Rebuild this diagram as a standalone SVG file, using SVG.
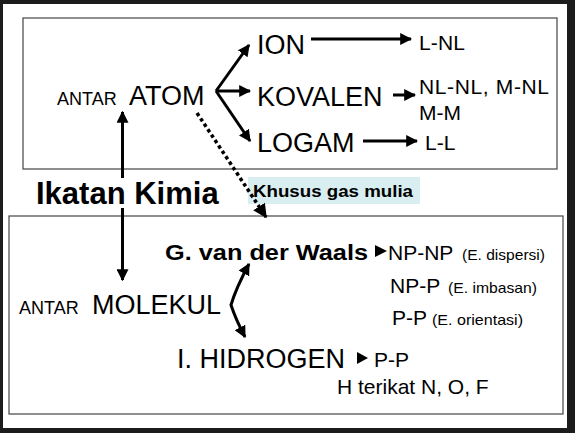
<svg xmlns="http://www.w3.org/2000/svg" width="575" height="433" viewBox="0 0 575 433">
<style>
text{font-family:"Liberation Sans",Arial,sans-serif;fill:#000}
.big{font-size:27px}
.sm{font-size:18px}
.mid{font-size:21px}
.tiny{font-size:15px}
.b{font-weight:bold}
.ln{stroke:#000;stroke-width:3;fill:none}
.box{fill:none;stroke:#444;stroke-width:1.2}
</style>
<defs>
<marker id="ah" viewBox="0 0 10 10" refX="9" refY="5" markerWidth="4" markerHeight="4" orient="auto-start-reverse" markerUnits="strokeWidth">
<path d="M0,0 L10,5 L0,10 z" fill="#000"/>
</marker>
</defs>
<rect x="0" y="0" width="575" height="433" fill="#1c1c1c"/>
<rect x="3" y="4" width="564" height="424" fill="#fff"/>
<rect class="box" x="23" y="18" width="534" height="151"/>
<rect class="box" x="9" y="216" width="554" height="198"/>

<g id="connectors">
<line class="ln" x1="122.5" y1="112" x2="122.5" y2="280" marker-start="url(#ah)" marker-end="url(#ah)"/>
<line class="ln" x1="216" y1="91" x2="249" y2="45" marker-end="url(#ah)"/>
<line class="ln" x1="216" y1="91" x2="250" y2="91" marker-end="url(#ah)"/>
<line class="ln" x1="216" y1="91" x2="250" y2="141" marker-end="url(#ah)"/>
<line class="ln" x1="311" y1="39" x2="411" y2="39" marker-end="url(#ah)"/>
<line class="ln" x1="393" y1="95" x2="415" y2="95" marker-end="url(#ah)"/>
<line class="ln" x1="363" y1="141" x2="417" y2="141" marker-end="url(#ah)"/>
<path class="ln" d="M249,264 Q236,288 231,305 Q236,320 245,337" marker-start="url(#ah)" marker-end="url(#ah)"/>
<path d="M375,245 L387,251 L375,257 z" fill="#000"/>
<path d="M357,352 L368,358 L357,364 z" fill="#000"/>
</g>

<rect x="34" y="178" width="186" height="30" fill="#fff"/>
<rect x="248" y="177" width="172" height="27" fill="#d9eef0"/>
<g id="dotted">
<line x1="197" y1="113" x2="266" y2="217" stroke="#000" stroke-width="3.5" stroke-dasharray="3.5,3" marker-end="url(#ah)"/>
</g>

<g id="ikatan"><text class="b" x="36" y="204" font-size="31">Ikatan Kimia</text></g>
<g id="khusus"><text class="b" x="253" y="197" font-size="17" textLength="160" lengthAdjust="spacingAndGlyphs">Khusus gas mulia</text></g>

<g id="atom">
<text class="sm" x="57" y="105">ANTAR</text>
<text class="big" x="129" y="105">ATOM</text>
</g>
<g id="ion"><text class="big" x="257" y="54">ION</text></g>
<g id="kovalen"><text class="big" x="257" y="106">KOVALEN</text></g>
<g id="logam"><text class="big" x="257" y="152">LOGAM</text></g>
<g id="lnl"><text class="mid" x="419" y="50" textLength="46">L-NL</text></g>
<g id="nlnl">
<text class="mid" x="419" y="94" textLength="130">NL-NL, M-NL</text>
<text class="mid" x="419" y="120">M-M</text>
</g>
<g id="ll"><text class="mid" x="425" y="150">L-L</text></g>

<g id="molekul">
<text class="sm" x="19" y="314">ANTAR</text>
<text class="big" x="92" y="314">MOLEKUL</text>
</g>
<g id="vdw"><text class="b" x="165" y="260" font-size="22" textLength="203" lengthAdjust="spacingAndGlyphs">G. van der Waals</text></g>
<g id="npnp">
<text class="mid" x="388" y="260">NP-NP</text>
<text class="tiny" x="462" y="260" textLength="83" lengthAdjust="spacingAndGlyphs">(E. dispersi)</text>
</g>
<g id="npp">
<text class="mid" x="390" y="293">NP-P</text>
<text class="tiny" x="448" y="293" textLength="89" lengthAdjust="spacingAndGlyphs">(E. imbasan)</text>
</g>
<g id="pp">
<text class="mid" x="392" y="325">P-P</text>
<text class="tiny" x="432" y="325" textLength="91" lengthAdjust="spacingAndGlyphs">(E. orientasi)</text>
</g>
<g id="hidrogen"><text class="big" x="177" y="368">I. HIDROGEN</text></g>
<g id="pp2"><text class="mid" x="374" y="367">P-P</text></g>
<g id="hterikat"><text class="mid" x="337" y="394">H terikat N, O, F</text></g>
</svg>
